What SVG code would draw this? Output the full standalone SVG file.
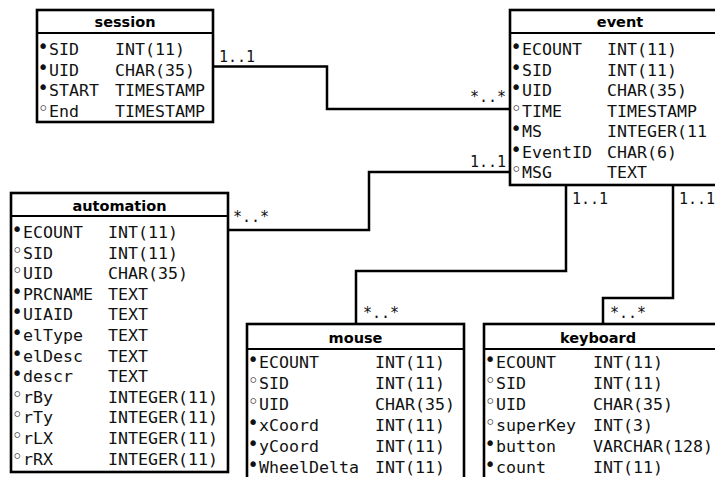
<svg xmlns="http://www.w3.org/2000/svg" width="715" height="477" viewBox="0 0 715 477">
<style>
.box{fill:#fff;stroke:#000;stroke-width:2.6}
.sep{stroke:#000;stroke-width:2}
.h{font-family:"DejaVu Sans",sans-serif;font-weight:bold;font-size:14.5px;text-anchor:middle;fill:#000}
.r{font-family:"DejaVu Sans Mono",monospace;font-size:16.6px;fill:#111}
.b{font-family:"DejaVu Sans",sans-serif;font-size:19px}
.lbl{font-family:"DejaVu Sans Mono",monospace;font-size:15px;fill:#111}
.c{fill:none;stroke:#000;stroke-width:2.5}
</style>
<rect width="715" height="477" fill="#fff"/>
<g id="connectors">
<path class="c" d="M213,66.5 H327 V109 H510"/>
<path class="c" d="M510,172 H369 V230 H228"/>
<path class="c" d="M566,185 V271 H356 V324"/>
<path class="c" d="M673,185 V298 H603 V324"/>
<text class="lbl" x="219" y="62">1..1</text>
<text class="lbl" x="470" y="102">*..*</text>
<text class="lbl" x="470" y="167">1..1</text>
<text class="lbl" x="233" y="222">*..*</text>
<text class="lbl" x="572" y="204">1..1</text>
<text class="lbl" x="679" y="204">1..1</text>
<text class="lbl" x="363" y="318">*..*</text>
<text class="lbl" x="610" y="318">*..*</text>
</g>
<g id="session">
<rect class="box" x="37" y="10" width="176" height="112"/>
<line class="sep" x1="37" y1="33" x2="213" y2="33"/>
<text class="h" x="125" y="27">session</text>
<text class="r" y="55"><tspan class="b" x="37.5" dy="-2">•</tspan><tspan x="49" dy="2">SID</tspan><tspan x="115">INT(11)</tspan></text>
<text class="r" y="75.5"><tspan class="b" x="37.5" dy="-2">•</tspan><tspan x="49" dy="2">UID</tspan><tspan x="115">CHAR(35)</tspan></text>
<text class="r" y="96"><tspan class="b" x="37.5" dy="-2">•</tspan><tspan x="49" dy="2">START</tspan><tspan x="115">TIMESTAMP</tspan></text>
<text class="r" y="116.5"><tspan class="b" x="37.5" dy="-2">◦</tspan><tspan x="49" dy="2">End</tspan><tspan x="115">TIMESTAMP</tspan></text>
</g>
<g id="event">
<rect class="box" x="510" y="10" width="230" height="175"/>
<line class="sep" x1="510" y1="33" x2="740" y2="33"/>
<text class="h" x="620" y="27">event</text>
<text class="r" y="55"><tspan class="b" x="510.5" dy="-2">•</tspan><tspan x="522" dy="2">ECOUNT</tspan><tspan x="607">INT(11)</tspan></text>
<text class="r" y="75.5"><tspan class="b" x="510.5" dy="-2">•</tspan><tspan x="522" dy="2">SID</tspan><tspan x="607">INT(11)</tspan></text>
<text class="r" y="96"><tspan class="b" x="510.5" dy="-2">•</tspan><tspan x="522" dy="2">UID</tspan><tspan x="607">CHAR(35)</tspan></text>
<text class="r" y="116.5"><tspan class="b" x="510.5" dy="-2">◦</tspan><tspan x="522" dy="2">TIME</tspan><tspan x="607">TIMESTAMP</tspan></text>
<text class="r" y="137"><tspan class="b" x="510.5" dy="-2">•</tspan><tspan x="522" dy="2">MS</tspan><tspan x="607">INTEGER(11</tspan></text>
<text class="r" y="157.5"><tspan class="b" x="510.5" dy="-2">•</tspan><tspan x="522" dy="2">EventID</tspan><tspan x="607">CHAR(6)</tspan></text>
<text class="r" y="178"><tspan class="b" x="510.5" dy="-2">◦</tspan><tspan x="522" dy="2">MSG</tspan><tspan x="607">TEXT</tspan></text>
</g>
<g id="automation">
<rect class="box" x="11" y="193" width="217" height="279"/>
<line class="sep" x1="11" y1="216" x2="228" y2="216"/>
<text class="h" x="119.5" y="211">automation</text>
<text class="r" y="238"><tspan class="b" x="11.5" dy="-2">•</tspan><tspan x="23" dy="2">ECOUNT</tspan><tspan x="108">INT(11)</tspan></text>
<text class="r" y="258.6"><tspan class="b" x="11.5" dy="-2">◦</tspan><tspan x="23" dy="2">SID</tspan><tspan x="108">INT(11)</tspan></text>
<text class="r" y="279.2"><tspan class="b" x="11.5" dy="-2">◦</tspan><tspan x="23" dy="2">UID</tspan><tspan x="108">CHAR(35)</tspan></text>
<text class="r" y="299.8"><tspan class="b" x="11.5" dy="-2">•</tspan><tspan x="23" dy="2">PRCNAME</tspan><tspan x="108">TEXT</tspan></text>
<text class="r" y="320.4"><tspan class="b" x="11.5" dy="-2">•</tspan><tspan x="23" dy="2">UIAID</tspan><tspan x="108">TEXT</tspan></text>
<text class="r" y="341"><tspan class="b" x="11.5" dy="-2">•</tspan><tspan x="23" dy="2">elType</tspan><tspan x="108">TEXT</tspan></text>
<text class="r" y="361.6"><tspan class="b" x="11.5" dy="-2">•</tspan><tspan x="23" dy="2">elDesc</tspan><tspan x="108">TEXT</tspan></text>
<text class="r" y="382.2"><tspan class="b" x="11.5" dy="-2">•</tspan><tspan x="23" dy="2">descr</tspan><tspan x="108">TEXT</tspan></text>
<text class="r" y="402.8"><tspan class="b" x="11.5" dy="-2">◦</tspan><tspan x="23" dy="2">rBy</tspan><tspan x="108">INTEGER(11)</tspan></text>
<text class="r" y="423.4"><tspan class="b" x="11.5" dy="-2">◦</tspan><tspan x="23" dy="2">rTy</tspan><tspan x="108">INTEGER(11)</tspan></text>
<text class="r" y="444"><tspan class="b" x="11.5" dy="-2">◦</tspan><tspan x="23" dy="2">rLX</tspan><tspan x="108">INTEGER(11)</tspan></text>
<text class="r" y="464.6"><tspan class="b" x="11.5" dy="-2">◦</tspan><tspan x="23" dy="2">rRX</tspan><tspan x="108">INTEGER(11)</tspan></text>
</g>
<g id="mouse">
<rect class="box" x="247" y="324" width="217" height="170"/>
<line class="sep" x1="247" y1="349" x2="464" y2="349"/>
<text class="h" x="355.5" y="343">mouse</text>
<text class="r" y="368"><tspan class="b" x="247.5" dy="-2">•</tspan><tspan x="259" dy="2">ECOUNT</tspan><tspan x="375">INT(11)</tspan></text>
<text class="r" y="389"><tspan class="b" x="247.5" dy="-2">◦</tspan><tspan x="259" dy="2">SID</tspan><tspan x="375">INT(11)</tspan></text>
<text class="r" y="410"><tspan class="b" x="247.5" dy="-2">◦</tspan><tspan x="259" dy="2">UID</tspan><tspan x="375">CHAR(35)</tspan></text>
<text class="r" y="431"><tspan class="b" x="247.5" dy="-2">•</tspan><tspan x="259" dy="2">xCoord</tspan><tspan x="375">INT(11)</tspan></text>
<text class="r" y="452"><tspan class="b" x="247.5" dy="-2">•</tspan><tspan x="259" dy="2">yCoord</tspan><tspan x="375">INT(11)</tspan></text>
<text class="r" y="473"><tspan class="b" x="247.5" dy="-2">•</tspan><tspan x="259" dy="2">WheelDelta</tspan><tspan x="375">INT(11)</tspan></text>
</g>
<g id="keyboard">
<rect class="box" x="484" y="324" width="256" height="170"/>
<line class="sep" x1="484" y1="349" x2="740" y2="349"/>
<text class="h" x="598" y="343">keyboard</text>
<text class="r" y="368"><tspan class="b" x="484.5" dy="-2">•</tspan><tspan x="496" dy="2">ECOUNT</tspan><tspan x="593">INT(11)</tspan></text>
<text class="r" y="389"><tspan class="b" x="484.5" dy="-2">◦</tspan><tspan x="496" dy="2">SID</tspan><tspan x="593">INT(11)</tspan></text>
<text class="r" y="410"><tspan class="b" x="484.5" dy="-2">◦</tspan><tspan x="496" dy="2">UID</tspan><tspan x="593">CHAR(35)</tspan></text>
<text class="r" y="431"><tspan class="b" x="484.5" dy="-2">◦</tspan><tspan x="496" dy="2">superKey</tspan><tspan x="593">INT(3)</tspan></text>
<text class="r" y="452"><tspan class="b" x="484.5" dy="-2">•</tspan><tspan x="496" dy="2">button</tspan><tspan x="593">VARCHAR(128)</tspan></text>
<text class="r" y="473"><tspan class="b" x="484.5" dy="-2">•</tspan><tspan x="496" dy="2">count</tspan><tspan x="593">INT(11)</tspan></text>
</g>
</svg>
